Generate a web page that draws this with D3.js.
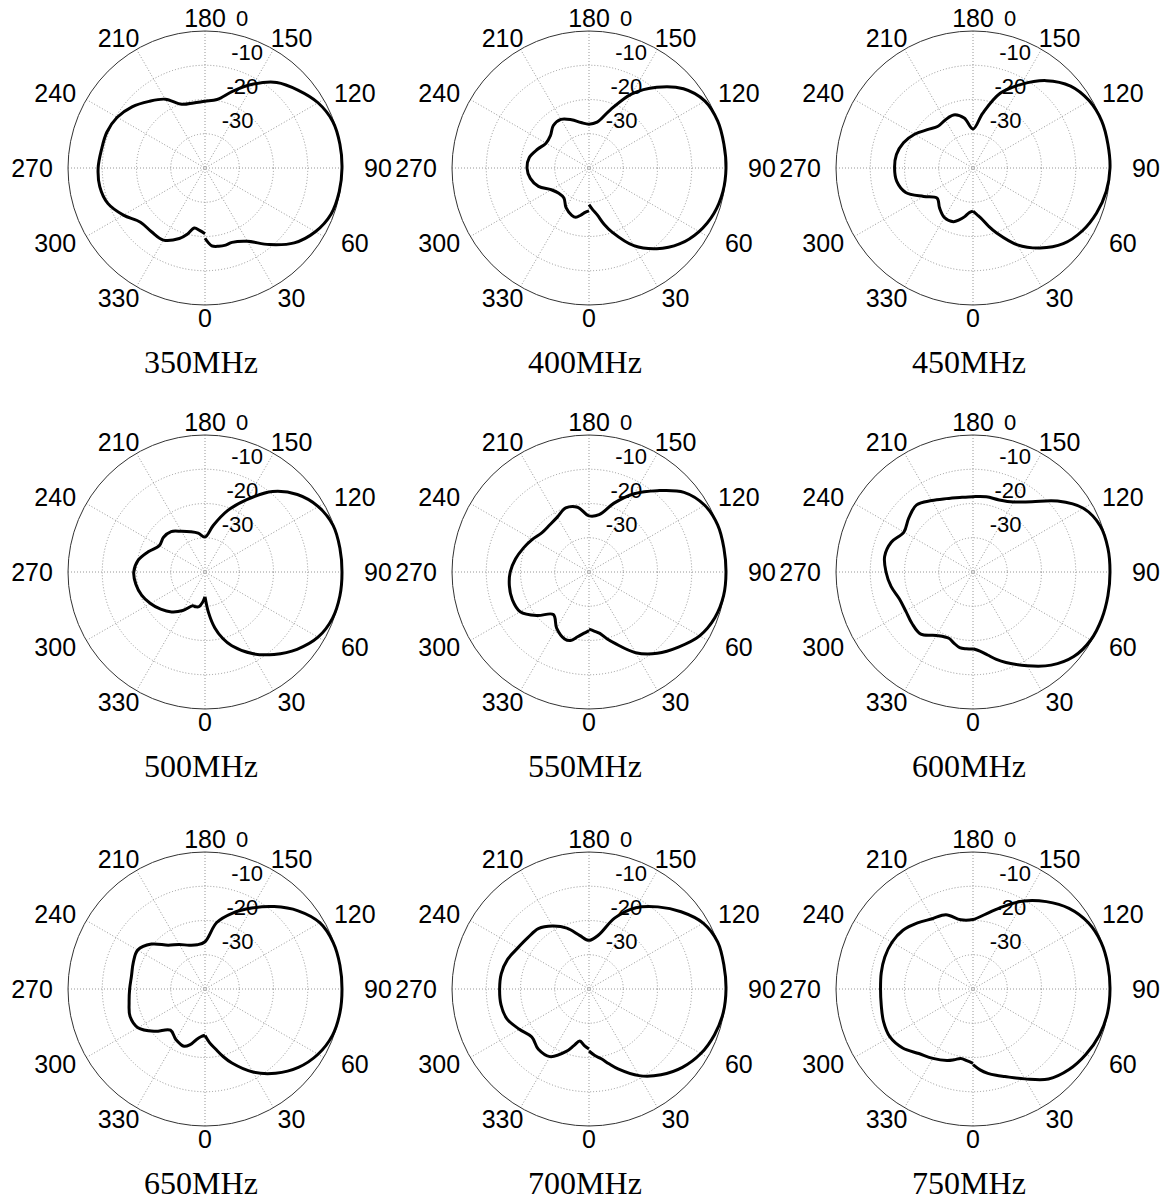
<!DOCTYPE html>
<html>
<head>
<meta charset="utf-8">
<script src="https://cdn.jsdelivr.net/npm/d3@7"></script>
<style>
  body { margin: 0; background: #fff; }
  svg { display: block; }
</style>
</head>
<body>
<svg id="chart" width="1169" height="1200"></svg>
<script>
// Measurement angles (degrees) shared by every pattern
const angles = [0, 5, 10, 15, 20, 30, 40, 50, 60, 70, 80, 90, 100, 110, 120, 130, 140, 150,
  160, 170, 180, 190, 200, 210, 220, 230, 240, 250, 260, 270, 280, 290, 300, 310, 320, 330,
  340, 345, 350, 355, 360];

// Normalised gain (dB) for each frequency
const gain350 = [-19.5, -17.2, -16.8, -16.7, -16.9, -15.3, -10.8, -6.0, -2.8, -0.8, -0.2, 0, 0, -0.3,
  -1.9, -4.6, -7.4, -11.7, -16.1, -19.7, -20.5, -20.7, -20.2, -16.8, -14.6, -12.2, -10.4, -9.5, -9.3,
  -8.8, -8.8, -9.8, -12.5, -15.4, -15.7, -15.7, -18.1, -20.0, -22.2, -21.7, -20.8];
const gain400 = [-29.3, -27.8, -26.1, -23.0, -20.0, -13.8, -9.2, -5.5, -2.9, -1.2, -0.3, 0, 0, 0,
  -0.9, -4.0, -9.2, -15.0, -22.0, -26.4, -27.2, -26.5, -25.0, -23.6, -23.8, -25.3, -25.5, -24.0, -22.3,
  -21.9, -22.6, -24.3, -27.3, -28.5, -28.6, -26.6, -25.3, -25.1, -26.0, -27.0, -27.5];
const gain450 = [-27.4, -26.3, -24.8, -22.4, -19.8, -14.1, -9.5, -5.6, -3.2, -1.6, -0.5, 0, 0, 0,
  -0.8, -2.8, -6.7, -11.8, -16.8, -23.8, -28.6, -25.2, -23.5, -23.8, -24.1, -22.6, -20.3, -18.4, -17.3,
  -17.1, -17.4, -19.1, -23.4, -26.3, -24.8, -23.3, -23.3, -24.3, -25.5, -26.9, -27.4];
const gain500 = [-32.8, -28.1, -23.4, -19.9, -17.1, -12.5, -8.6, -4.9, -1.9, -0.4, 0, 0, 0, -0.2,
  -1.8, -4.8, -9.3, -15.6, -21.0, -26.2, -29.8, -28.5, -27.5, -26.3, -24.6, -24.2, -24.6, -22.5, -20.2,
  -19.2, -19.5, -20.3, -21.6, -23.1, -24.8, -27.0, -29.5, -29.5, -29.7, -31.0, -32.8];
const gain550 = [-23.3, -22.7, -21.8, -19.8, -17.8, -12.8, -9.0, -5.9, -2.7, -0.9, -0.1, 0, 0, 0,
  -1.0, -3.8, -9.0, -13.6, -18.6, -23.0, -23.6, -20.8, -20.1, -21.5, -22.1, -22.1, -20.9, -19.6, -18.2,
  -17.0, -16.4, -16.2, -16.8, -20.2, -23.8, -21.1, -19.2, -19.3, -20.8, -22.0, -22.9];
const gain600 = [-17.6, -16.8, -15.4, -13.6, -11.9, -8.4, -4.5, -1.6, -0.3, 0, 0, 0, 0, -0.5,
  -2.8, -7.8, -13.2, -16.4, -17.6, -17.7, -18.0, -17.9, -17.2, -15.9, -14.4, -15.5, -16.7, -14.6, -13.8,
  -14.6, -15.7, -17.1, -17.3, -16.7, -16.3, -18.6, -19.4, -18.5, -17.6, -17.5, -17.5];
const gain650 = [-26.4, -24.2, -22.2, -19.6, -17.0, -12.0, -7.9, -4.4, -1.9, -0.4, 0, 0, 0, -0.2,
  -1.3, -4.5, -8.6, -12.7, -16.4, -20.3, -26.2, -26.9, -26.4, -25.0, -23.3, -19.6, -17.3, -17.7, -18.2,
  -18.0, -17.5, -16.7, -17.4, -20.8, -24.3, -23.0, -22.2, -23.2, -24.9, -26.0, -26.5];
const gain700 = [-21.9, -20.5, -19.3, -17.4, -15.2, -10.8, -7.3, -4.4, -2.3, -1.0, -0.2, 0, 0, 0,
  -1.5, -4.9, -8.7, -12.6, -17.9, -24.0, -25.8, -24.1, -21.1, -18.8, -17.0, -16.7, -16.0, -14.7, -14.0,
  -13.9, -13.9, -14.5, -16.5, -18.2, -17.0, -17.2, -20.6, -22.9, -24.6, -23.5, -22.5];
const gain750 = [-17.9, -16.3, -15.0, -13.9, -12.8, -9.7, -5.7, -3.4, -1.9, -0.7, -0.1, 0, 0, -0.2,
  -1.2, -3.4, -6.7, -10.3, -14.4, -17.7, -19.7, -19.5, -16.9, -16.3, -14.8, -13.3, -12.7, -12.6, -12.8,
  -13.0, -12.8, -12.2, -12.0, -13.2, -15.4, -16.6, -17.8, -18.6, -19.4, -19.0, -18.3];

const frequencies = ["350MHz", "400MHz", "450MHz", "500MHz", "550MHz", "600MHz", "650MHz", "700MHz", "750MHz"];
const gains = [gain350, gain400, gain450, gain500, gain550, gain600, gain650, gain700, gain750];

// Axis annotation
const spokeAngles = d3.range(0, 360, 30);     // 0, 30, ..., 330
const ringTicks = [-30, -20, -10, 0];         // dB
const dbDomain = [-40, 0];

// Layout
const colX = [205, 589, 973];
const rowY = [168, 572, 989];
const R = 137;

const svg = d3.select("#chart");
const rScale = d3.scaleLinear().domain(dbDomain).range([0, R]);
const rad = d => d * Math.PI / 180;
// 0 deg points down, angles increase counter-clockwise (towards the right)
const px = (deg, r) => r * Math.sin(rad(deg));
const py = (deg, r) => r * Math.cos(rad(deg));

const line = d3.lineRadial()
  .angle(d => Math.PI - rad(d.a))
  .radius(d => rScale(d.g))
  .curve(d3.curveCatmullRom.alpha(0.5));

frequencies.forEach((freq, i) => {
  const cx = colX[i % 3], cy = rowY[Math.floor(i / 3)];
  const g = svg.append("g").attr("transform", `translate(${cx},${cy})`);

  // dotted spokes
  g.selectAll("line.spoke").data(spokeAngles.filter(a => a < 180)).enter().append("line")
    .attr("x1", a => px(a, R)).attr("y1", a => py(a, R))
    .attr("x2", a => px(a + 180, R)).attr("y2", a => py(a + 180, R))
    .attr("stroke", "#8a8a8a").attr("stroke-width", 0.9).attr("stroke-dasharray", "1,2");

  // dotted rings
  g.selectAll("circle.ring").data(ringTicks.filter(t => t < 0)).enter().append("circle")
    .attr("r", t => rScale(t)).attr("fill", "none")
    .attr("stroke", "#8a8a8a").attr("stroke-width", 0.9).attr("stroke-dasharray", "1,2");

  // outer boundary
  g.append("circle").attr("r", rScale(0)).attr("fill", "none")
    .attr("stroke", "#333").attr("stroke-width", 1);

  // radial tick labels along the 82 degree line
  g.selectAll("text.rtick").data(ringTicks).enter().append("text")
    .attr("x", t => rScale(t) * Math.cos(rad(82)) + 12)
    .attr("y", t => -(rScale(t) * Math.sin(rad(82)) + 6))
    .attr("font-family", "Liberation Sans, Arial, sans-serif")
    .attr("font-size", 22).attr("fill", "#000")
    .text(t => t);

  // angle labels
  const fs = 25;
  g.selectAll("text.atick").data(spokeAngles).enter().append("text")
    .attr("x", a => 173 * Math.sin(rad(a)))
    .attr("y", a => 150 * Math.cos(rad(a)) + 0.358 * fs)
    .attr("text-anchor", "middle")
    .attr("font-family", "Liberation Sans, Arial, sans-serif")
    .attr("font-size", fs).attr("fill", "#000")
    .text(a => a);

  // pattern
  const pts = angles.map((a, k) => ({ a, g: gains[i][k] }));
  g.append("path").datum(pts).attr("d", line)
    .attr("fill", "none").attr("stroke", "#000").attr("stroke-width", 3)
    .attr("stroke-linejoin", "round").attr("stroke-linecap", "butt");

  // caption
  svg.append("text")
    .attr("x", cx - 4).attr("y", cy + 205)
    .attr("text-anchor", "middle")
    .attr("font-family", "Liberation Serif, Times New Roman, serif")
    .attr("font-size", 32).attr("fill", "#000")
    .text(freq);
});
</script>
</body>
</html>
